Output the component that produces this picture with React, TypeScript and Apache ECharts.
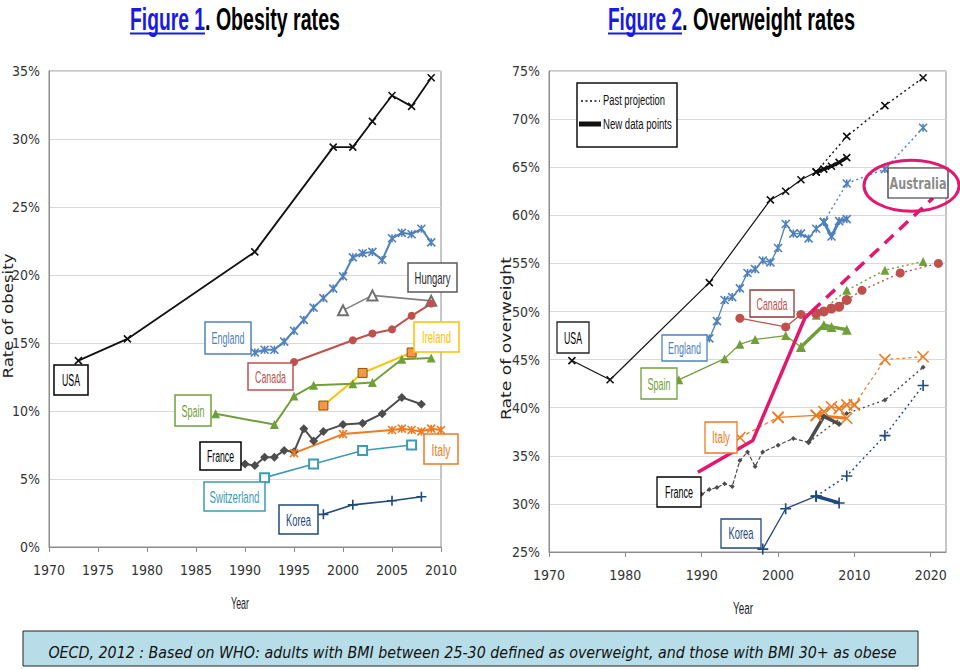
import React, { useEffect, useRef } from 'react';
import * as echarts from 'echarts';

// ---------------- DATA ----------------
// Figure 1 – obesity rates (%), [year, value]
const usaObesity = [[1973, 13.7], [1978, 15.3], [1991, 21.7], [1999, 29.4], [2001, 29.4], [2003, 31.3], [2005, 33.2], [2007, 32.4], [2009, 34.5]];
const englandObesity = [[1991, 14.3], [1992, 14.5], [1993, 14.5], [1994, 15.1], [1995, 15.9], [1996, 16.7], [1997, 17.6], [1998, 18.3], [1999, 19.0], [2000, 19.9], [2001, 21.3], [2002, 21.6], [2003, 21.7], [2004, 21.1], [2005, 22.7], [2006, 23.1], [2007, 23.0], [2008, 23.4], [2009, 22.4]];
const hungaryObesity = [[2000, 17.4], [2003, 18.5], [2009, 18.1]];
const canadaObesity = [[1995, 13.6], [2001, 15.2], [2003, 15.7], [2005, 16.0], [2007, 17.0], [2009, 17.9]];
const irelandObesity = [[1998, 10.4], [2002, 12.8], [2007, 14.3]];
const spainObesity = [[1987, 9.8], [1993, 9.0], [1995, 11.1], [1997, 11.9], [2001, 12.0], [2003, 12.1], [2006, 13.8], [2009, 13.9]];
const franceObesity = [[1990, 6.1], [1991, 6.0], [1992, 6.6], [1993, 6.6], [1994, 7.1], [1995, 7.0], [1996, 8.7], [1997, 7.8], [1998, 8.5], [2000, 9.0], [2002, 9.1], [2004, 9.8], [2006, 11.0], [2008, 10.5]];
const italyObesity = [[1995, 6.9], [2000, 8.3], [2005, 8.6], [2006, 8.7], [2007, 8.6], [2008, 8.5], [2009, 8.7], [2010, 8.6]];
const switzerlandObesity = [[1992, 5.1], [1997, 6.1], [2002, 7.1], [2007, 7.5]];
const koreaObesity = [[1998, 2.4], [2001, 3.1], [2005, 3.4], [2008, 3.7]];

// Figure 2 – overweight rates (%), observed / past projection / new data points
const usaOwObserved = [[1973, 44.9], [1978, 42.9], [1991, 53.0], [1999, 61.6], [2001, 62.5], [2003, 63.7], [2005, 64.5]];
const usaOwProjection = [[2005, 64.5], [2009, 68.2], [2014, 71.4], [2019, 74.3]];
const usaOwNew = [[2005, 64.5], [2006, 64.8], [2007, 65.1], [2008, 65.5], [2009, 66.0]];

const englandOwObserved = [[1991, 47.2], [1992, 49.0], [1993, 51.2], [1994, 51.5], [1995, 52.4], [1996, 54.0], [1997, 54.4], [1998, 55.3], [1999, 55.1], [2000, 56.6], [2001, 59.1], [2002, 58.1], [2003, 58.1], [2004, 57.6], [2005, 58.6], [2006, 59.3]];
const englandOwProjection = [[2006, 59.3], [2009, 63.3], [2014, 64.8], [2019, 69.1]];
const englandOwNew = [[2006, 59.3], [2007, 57.8], [2008, 59.4], [2009, 59.6]];

const canadaOwObserved = [[1995, 49.3], [2001, 48.4], [2003, 49.7], [2005, 49.8]];
const canadaOwNew = [[2005, 49.8], [2006, 50.0], [2007, 50.3], [2008, 50.5], [2009, 51.2]];
const canadaOwProjection = [[2009, 51.2], [2011, 52.2], [2016, 54.0], [2021, 55.0]];

const spainOwObserved = [[1987, 42.9], [1993, 45.1], [1995, 46.6], [1997, 47.1], [2001, 47.5], [2003, 46.3]];
const spainOwNew = [[2003, 46.3], [2006, 48.6], [2007, 48.4], [2009, 48.1]];
const spainOwProjection = [[2005, 49.6], [2009, 52.2], [2014, 54.3], [2019, 55.2]];

const italyOwEarly = [[1995, 36.9], [2000, 39.0]];
const italyOwObserved = [[2000, 39.0], [2005, 39.2], [2006, 39.6], [2007, 40.1], [2008, 39.9], [2009, 40.3], [2010, 40.3]];
const italyOwProjection = [[2010, 40.3], [2014, 45.0], [2019, 45.3]];
const italyOwNew = [[2005, 39.2], [2009, 38.9]];

const franceOwObserved = [[1990, 31.0], [1991, 31.5], [1992, 31.7], [1993, 32.1], [1994, 31.8], [1995, 34.5], [1996, 35.4], [1997, 33.9], [1998, 35.4], [2000, 36.1], [2002, 36.8], [2004, 36.4]];
const franceOwProjection = [[2004, 36.4], [2009, 39.4], [2014, 40.8], [2019, 44.2]];
const franceOwNew = [[2004, 36.4], [2006, 39.1], [2008, 38.3]];

const koreaOwObserved = [[1998, 25.3], [2001, 29.5], [2005, 30.8]];
const koreaOwProjection = [[2005, 30.8], [2009, 32.9], [2014, 37.1], [2019, 42.3]];
const koreaOwNew = [[2005, 30.8], [2008, 30.1]];

const australiaOwObserved = [[1989.5, 33.3], [1996.7, 36.6], [2003.5, 49.3], [2004.4, 50.0]];
const australiaOwTrend = [[2004.4, 50.0], [2020.3, 61.8]];

// ---------------- STYLE ----------------
const NARROW = '"Liberation Sans Narrow", "Arial Narrow", "DejaVu Sans Condensed", sans-serif';
const SANS = '"Liberation Sans", Arial, sans-serif';
const VERD = '"DejaVu Sans", Verdana, sans-serif';

const C = {
  usa: '#111111',
  eng: '#4F81BD',
  hun: '#7F7F7F',
  can: '#C0504D',
  ire: '#FFC000',
  spa: '#71A03B',
  fra: '#4D4D4D',
  ita: '#EE7B22',
  swi: '#3C9BB5',
  kor: '#1F497D',
  aus: '#E2186E',
};

const X = 'path://M0 0L10 10M10 0L0 10';
const STAR = 'path://M0 0L10 10M10 0L0 10M5 0L5 10';
const PLUS = 'path://M5 0L5 10M0 5L10 5';
const DOT: number[] = [2, 3];

let ctx2d: CanvasRenderingContext2D | null = null;
function measure(text: string, size: number, family: string, weight = 'normal', style = 'normal') {
  if (!ctx2d) ctx2d = document.createElement('canvas').getContext('2d');
  if (!ctx2d) return text.length * size * 0.5;
  ctx2d.font = `${style} ${weight} ${size}px ${family}`;
  return ctx2d.measureText(text).width;
}

function fitText(text: string, x: number, y: number, w: number, size: number, family: string, fill: string, o: any = {}) {
  const weight = o.weight || 'normal';
  const fstyle = o.fontStyle || 'normal';
  const nat = measure(text, size, family, weight, fstyle);
  const sx = nat > 0 ? w / nat : 1;
  return {
    type: 'text',
    x,
    y,
    rotation: o.rotation || 0,
    scaleX: sx,
    scaleY: o.scaleY || 1,
    z: o.z || 110,
    silent: true,
    style: {
      text,
      fill,
      fontSize: size,
      fontFamily: family,
      fontWeight: weight,
      fontStyle: fstyle,
      align: o.align || 'center',
      verticalAlign: 'middle',
      textAlign: o.align || 'center',
      textVerticalAlign: 'middle',
    },
  };
}

function labelBox(b: number[], text: string, tw: number, stroke: string, fill: string, size: number, o: any = {}) {
  const [x1, y1, x2, y2] = b;
  return [
    {
      type: 'rect',
      z: 100,
      silent: true,
      shape: { x: x1, y: y1, width: x2 - x1, height: y2 - y1 },
      style: { fill: '#ffffff', stroke, lineWidth: o.lw || 1.5 },
    },
    fitText(text, (x1 + x2) / 2, (y1 + y2) / 2 + 0.5, tw, size, o.family || SANS, fill, { weight: o.weight }),
  ];
}

function line(idx: number, data: number[][], color: string, o: any = {}) {
  const sym = o.symbol || 'none';
  const isPath = typeof sym === 'string' && sym.startsWith('path');
  return {
    type: 'line',
    xAxisIndex: idx,
    yAxisIndex: idx,
    data,
    silent: true,
    z: o.z || 3,
    symbol: sym,
    symbolSize: o.size || 6,
    showSymbol: sym !== 'none',
    showAllSymbol: true,
    lineStyle: { color: o.lineColor || color, width: o.width || 2, type: o.type || 'solid' },
    itemStyle: {
      color: o.fill || color,
      borderColor: o.border || color,
      borderWidth: o.bw !== undefined ? o.bw : isPath ? 1.6 : 0,
    },
    emphasis: { disabled: true },
  };
}

// label boxes (layout)
const leftLabels = [
  { t: 'USA', b: [54, 365, 88, 395], w: 18, s: '#000', f: '#000' },
  { t: 'England', b: [205, 322, 251, 354], w: 33, s: C.eng, f: C.eng },
  { t: 'Canada', b: [248, 363, 293, 390], w: 31, s: C.can, f: C.can },
  { t: 'Hungary', b: [408, 263, 457, 292], w: 36, s: '#595959', f: '#262626' },
  { t: 'Ireland', b: [414, 322, 459, 352], w: 29, s: C.ire, f: C.ire },
  { t: 'Spain', b: [175, 395, 211, 426], w: 23, s: C.spa, f: C.spa },
  { t: 'France', b: [200, 442, 241, 470], w: 27, s: '#000', f: '#000' },
  { t: 'Italy', b: [424, 434, 458, 464], w: 19, s: C.ita, f: C.ita },
  { t: 'Switzerland', b: [204, 482, 265, 511], w: 50, s: C.swi, f: C.swi },
  { t: 'Korea', b: [279, 505, 318, 534], w: 25, s: C.kor, f: C.kor },
];
const rightLabels = [
  { t: 'Canada', b: [750, 290, 794, 317], w: 31, s: '#953735', f: C.can },
  { t: 'USA', b: [557, 322, 589, 353], w: 18, s: '#262626', f: '#000' },
  { t: 'England', b: [662, 335, 707, 361], w: 33, s: C.eng, f: C.eng },
  { t: 'Spain', b: [641, 368, 677, 399], w: 23, s: C.spa, f: C.spa },
  { t: 'Italy', b: [705, 422, 737, 453], w: 18, s: C.ita, f: C.ita },
  { t: 'France', b: [657, 477, 701, 507], w: 28, s: '#000', f: '#000' },
  { t: 'Korea', b: [721, 519, 761, 548], w: 25, s: C.kor, f: C.kor },
];

function buildGraphic() {
  const g: any[] = [];
  // titles
  g.push(fitText('Figure 1', 130, 19.5, 75, 32, SANS, '#1A1AE6', { weight: 'bold', align: 'left' }));
  g.push(fitText('. Obesity rates', 205, 19.5, 135, 32, SANS, '#000', { weight: 'bold', align: 'left' }));
  g.push({ type: 'line', silent: true, z: 110, shape: { x1: 130, y1: 33.5, x2: 205, y2: 33.5 }, style: { stroke: '#1A1AE6', lineWidth: 2 } });
  g.push(fitText('Figure 2', 608, 19.5, 74, 32, SANS, '#1A1AE6', { weight: 'bold', align: 'left' }));
  g.push(fitText('. Overweight rates', 682, 19.5, 173, 32, SANS, '#000', { weight: 'bold', align: 'left' }));
  g.push({ type: 'line', silent: true, z: 110, shape: { x1: 608, y1: 33.5, x2: 682, y2: 33.5 }, style: { stroke: '#1A1AE6', lineWidth: 2 } });

  // axis names
  g.push(fitText('Rate of obesity', 8, 316, 125, 14, VERD, '#222', { rotation: Math.PI / 2 }));
  g.push(fitText('Rate of overweight', 506, 338.5, 163, 14, VERD, '#222', { rotation: Math.PI / 2 }));
  g.push(fitText('Year', 240, 603.5, 18, 17, SANS, '#222'));
  g.push(fitText('Year', 743, 608, 20, 17, SANS, '#222'));

  // country labels
  leftLabels.forEach((l) => g.push(...labelBox(l.b, l.t, l.w, l.s, l.f, 17)));
  rightLabels.forEach((l) => g.push(...labelBox(l.b, l.t, l.w, l.s, l.f, 16, { lw: 1.3 })));

  // Australia box + ellipse
  g.push(...labelBox([888, 168, 948, 198], 'Australia', 57, '#262626', '#8C8C8C', 15, { family: VERD, weight: 'bold', lw: 1.2 }));
  g.push({ type: 'ellipse', silent: true, z: 120, shape: { cx: 911.5, cy: 185.7, rx: 47.5, ry: 25.5 }, style: { fill: 'none', stroke: C.aus, lineWidth: 3 } });

  // legend of figure 2
  g.push({ type: 'rect', silent: true, z: 100, shape: { x: 577, y: 83, width: 100, height: 64 }, style: { fill: '#fff', stroke: '#111', lineWidth: 1.5 } });
  g.push({ type: 'line', silent: true, z: 110, shape: { x1: 581, y1: 101, x2: 600, y2: 101 }, style: { stroke: '#111', lineWidth: 1.5, lineDash: [2, 2.5] } });
  g.push({ type: 'rect', silent: true, z: 110, shape: { x: 579, y: 121.5, width: 22, height: 5 }, style: { fill: '#111' } });
  g.push(fitText('Past projection', 603, 100.5, 62, 15, SANS, '#111', { align: 'left' }));
  g.push(fitText('New data points', 603, 124, 69, 15, SANS, '#111', { align: 'left' }));

  // caption
  g.push({ type: 'rect', silent: true, z: 100, shape: { x: 23, y: 631, width: 895, height: 35 }, style: { fill: '#B7DEE8', stroke: '#222', lineWidth: 1 } });
  g.push(fitText('OECD, 2012 : Based on WHO: adults with BMI between 25-30 defined as overweight, and those with BMI 30+ as obese', 472.5, 652, 849, 15, VERD, '#111', { fontStyle: 'italic' }));
  return g;
}

function buildOption() {
  const axisLabelBase = { fontFamily: NARROW, fontSize: 14, color: '#333' };
  const axisLine = { show: true, lineStyle: { color: '#8C8C8C', width: 1 } };
  const L = 0;
  const R = 1;
  return {
    animation: false,
    backgroundColor: '#ffffff',
    grid: [
      { left: 49, top: 71, width: 392, height: 476, show: true, borderColor: '#8C8C8C', borderWidth: 1, backgroundColor: 'transparent' },
      { left: 549, top: 71, width: 397, height: 481, show: true, borderColor: '#8C8C8C', borderWidth: 1, backgroundColor: 'transparent' },
    ],
    xAxis: [
      {
        type: 'value', gridIndex: 0, min: 1970, max: 2010, interval: 5,
        axisLine, axisTick: { show: true, length: 5, lineStyle: { color: '#8C8C8C' } },
        splitLine: { show: false },
        axisLabel: { ...axisLabelBase, margin: 16, formatter: (v: number) => String(v) },
      },
      {
        type: 'value', gridIndex: 1, min: 1970, max: 2022, interval: 10,
        axisLine, axisTick: { show: true, length: 5, lineStyle: { color: '#8C8C8C' } },
        splitLine: { show: false },
        axisLabel: { ...axisLabelBase, margin: 16, showMaxLabel: false, formatter: (v: number) => (v % 10 === 0 ? String(v) : '') },
      },
    ],
    yAxis: [
      {
        type: 'value', gridIndex: 0, min: 0, max: 35, interval: 5,
        axisLine, axisTick: { show: false },
        splitLine: { show: true, lineStyle: { color: '#D9D9D9', width: 1 } },
        axisLabel: { ...axisLabelBase, margin: 9, formatter: '{value}%' },
      },
      {
        type: 'value', gridIndex: 1, min: 25, max: 75, interval: 5,
        axisLine, axisTick: { show: false },
        splitLine: { show: true, lineStyle: { color: '#D9D9D9', width: 1 } },
        axisLabel: { ...axisLabelBase, margin: 9, formatter: '{value}%' },
      },
    ],
    series: [
      // Figure 1
      line(L, usaObesity, C.usa, { symbol: X, size: 7, width: 1.8 }),
      line(L, englandObesity, C.eng, { symbol: STAR, size: 8, width: 2 }),
      line(L, hungaryObesity, C.hun, { symbol: 'emptyTriangle', size: 10, width: 1.6, bw: 1.5, fill: '#6F6F6F', border: '#6F6F6F' }),
      line(L, canadaObesity, C.can, { symbol: 'circle', size: 8, width: 2 }),
      line(L, irelandObesity, C.ire, { symbol: 'rect', size: 9, width: 2, fill: '#F79646', border: '#7F5A00', bw: 1 }),
      line(L, spainObesity, C.spa, { symbol: 'triangle', size: 9, width: 2 }),
      line(L, franceObesity, C.fra, { symbol: 'diamond', size: 9, width: 2 }),
      line(L, italyObesity, C.ita, { symbol: STAR, size: 8, width: 2 }),
      line(L, switzerlandObesity, C.swi, { symbol: 'emptyRect', size: 9, width: 1.6, bw: 1.5, fill: C.swi, border: C.swi }),
      line(L, koreaObesity, C.kor, { symbol: PLUS, size: 10, width: 1.6 }),

      // Figure 2 – past projections (dotted)
      line(R, usaOwProjection, C.usa, { symbol: X, size: 7, width: 1.4, type: DOT, z: 2 }),
      line(R, englandOwProjection, C.eng, { symbol: STAR, size: 8, width: 1.4, type: DOT, z: 2 }),
      line(R, canadaOwProjection, C.can, { symbol: 'circle', size: 9, width: 1.4, type: DOT, z: 2 }),
      line(R, spainOwProjection, C.spa, { symbol: 'triangle', size: 9, width: 1.4, type: DOT, z: 2 }),
      line(R, italyOwProjection, C.ita, { symbol: X, size: 11, width: 1.2, type: [3, 3], z: 2 }),
      line(R, franceOwProjection, C.fra, { symbol: 'diamond', size: 5, width: 1.4, type: DOT, z: 2 }),
      line(R, koreaOwProjection, C.kor, { symbol: PLUS, size: 11, width: 1.4, type: DOT, z: 2 }),
      // observed (thin)
      line(R, usaOwObserved, C.usa, { symbol: X, size: 7, width: 1.2 }),
      line(R, englandOwObserved, C.eng, { symbol: STAR, size: 8, width: 1.3 }),
      line(R, canadaOwObserved, C.can, { symbol: 'circle', size: 9, width: 1.3 }),
      line(R, spainOwObserved, C.spa, { symbol: 'triangle', size: 9, width: 1.3 }),
      line(R, italyOwEarly, C.ita, { symbol: X, size: 11, width: 1.2, type: [4, 3] }),
      line(R, italyOwObserved, C.ita, { symbol: X, size: 11, width: 1.3 }),
      line(R, franceOwObserved, C.fra, { symbol: 'diamond', size: 5, width: 1.2, type: [4, 2] }),
      line(R, koreaOwObserved, C.kor, { symbol: PLUS, size: 11, width: 1.3 }),
      // new data points (thick)
      line(R, usaOwNew, C.usa, { symbol: X, size: 7, width: 3.5, z: 4 }),
      line(R, englandOwNew, C.eng, { symbol: STAR, size: 8, width: 3, z: 4 }),
      line(R, canadaOwNew, C.can, { symbol: 'circle', size: 10, width: 3, z: 4 }),
      line(R, spainOwNew, C.spa, { symbol: 'triangle', size: 10, width: 3.5, z: 4 }),
      line(R, italyOwNew, C.ita, { symbol: X, size: 11, width: 3, z: 4 }),
      line(R, franceOwNew, C.fra, { symbol: 'diamond', size: 6, width: 3.5, z: 4 }),
      line(R, koreaOwNew, C.kor, { symbol: PLUS, size: 11, width: 3.5, z: 4 }),
      // Australia
      line(R, australiaOwObserved, C.aus, { width: 3.5, z: 6 }),
      line(R, australiaOwTrend, C.aus, { width: 3.5, type: [12, 8], z: 6 }),
    ],
    graphic: buildGraphic(),
  };
}

export default function App() {
  const ref = useRef<HTMLDivElement>(null);
  useEffect(() => {
    if (!ref.current) return;
    const chart = echarts.init(ref.current, undefined, { renderer: 'svg' });
    chart.setOption(buildOption() as any);
    return () => chart.dispose();
  }, []);
  return (
    <div
      ref={ref}
      style={{ position: 'absolute', left: 0, top: 0, width: 960, height: 670, background: '#fff' }}
    />
  );
}
